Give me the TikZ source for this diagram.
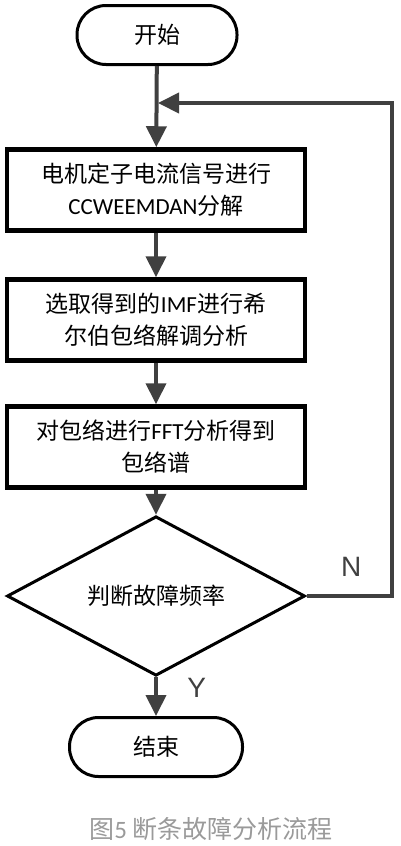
\documentclass[tikz,border=0pt]{standalone}
\usepackage{fontspec}
\setmainfont{Noto Sans CJK SC}
\newfontfamily\latfont{Carlito}
\newfontfamily\yesnofont{Liberation Sans}
\usetikzlibrary{shapes.geometric,arrows.meta}
\definecolor{linegray}{HTML}{404040}
\definecolor{capgray}{HTML}{9A9A9A}
\tikzset{
    terminal/.style={
        draw,line width=3pt,rounded corners=29pt,
        fill=white,
        minimum height=59pt,
        font=\fontsize{23}{30}\selectfont
    },
    process/.style={
        draw,line width=4.5pt,
        fill=white,
        minimum width=298pt,minimum height=81pt,
        align=center,
        font=\fontsize{23}{32}\selectfont
    },
    decision/.style={
        draw,diamond,line width=3pt,inner sep=0pt,
        minimum width=298pt,minimum height=118pt,
        font=\fontsize{23}{30}\selectfont
    },
    branch label/.style={font=\yesnofont\fontsize{28}{30}\selectfont},
    conn/.style={linegray,line width=4pt,-{Triangle[length=21pt,width=20pt]}},
    >={Triangle[length=21pt,width=20pt]}
}

\begin{document}
\begin{tikzpicture}[x=1pt,y=-1pt]
\useasboundingbox (0,0) rectangle (400,846);
\node[terminal,minimum width=160pt] (start) at (157,35) {开始};
\node[process] (decomp) at (156,190) {电机定子电流信号进行\\{\latfont CCWEEMDAN}分解};
\node[process] (hilbert) at (156,320) {选取得到的{\latfont IMF}进行希\\尔伯包络解调分析};
\node[process] (envspec) at (156,447) {对包络进行{\latfont FFT}分析得到\\包络谱};
\node[decision] (judge) at (156,596) {判断故障频率};
\node[terminal,minimum width=173pt] (stop) at (156,747) {结束};
\coordinate (merge) at (158,103);
\coordinate (loopx) at (392,0);
\draw[conn] (start) -- (decomp);
\draw[conn] (decomp) -- (hilbert);
\draw[conn] (hilbert) -- (envspec);
\draw[conn] (envspec) -- (judge);
\draw[conn] (judge) -- node[branch label,right=26pt,yshift=9pt] {Y} (stop);
\draw[conn] (judge.east) -- node[branch label,above=14pt,xshift=2pt] {N} (judge.east -| loopx) |- (merge);
\node[capgray,font=\fontsize{25}{30}\selectfont] (caption) at (211,829) {图{\latfont 5}\ 断条故障分析流程};
\end{tikzpicture}
\end{document}
